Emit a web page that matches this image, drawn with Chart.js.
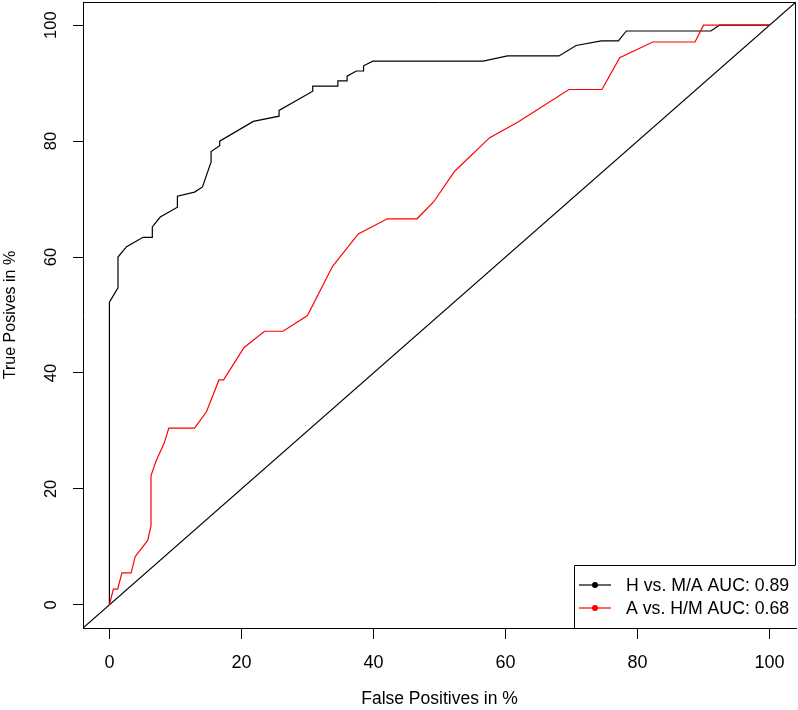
<!DOCTYPE html>
<html>
<head>
<meta charset="utf-8">
<script src="https://cdn.jsdelivr.net/npm/chart.js@4.4.1/dist/chart.umd.min.js"></script>
<style>
  html, body { margin: 0; padding: 0; background: #ffffff; }
  #wrap { width: 798px; height: 710px; }
</style>
</head>
<body>
<div id="wrap"><canvas id="c" width="798" height="710"></canvas></div>
<script>
// ---- data ----
const hmLabel = 'H vs. M/A AUC: 0.89';
const hmFpr = [0, 0, 1.3, 1.3, 2.6, 5.1, 6.5, 6.5, 7.7, 10.3, 10.3, 12.9, 14.1, 15.4, 15.4, 16.7, 16.7, 21.8, 25.7, 25.7, 30.8, 30.8, 34.6, 34.6, 36.0, 36.0, 37.4, 38.5, 38.5, 39.9, 56.6, 60.3, 68.1, 70.7, 74.5, 77.1, 78.3, 91.1, 92.4, 100];
const hmTpr = [0, 52.2, 54.7, 60.0, 61.8, 63.4, 63.4, 65.2, 66.9, 68.6, 70.5, 71.2, 72.1, 76.4, 78.2, 79.2, 80.0, 83.4, 84.3, 85.3, 88.6, 89.5, 89.5, 90.4, 90.4, 91.2, 92.1, 92.1, 93.0, 93.8, 93.8, 94.7, 94.7, 96.5, 97.3, 97.3, 99.0, 99.0, 100, 100];

const ahLabel = 'A vs. H/M AUC: 0.68';
const ahFpr = [0, 0.6, 1.25, 1.9, 3.3, 3.9, 5.8, 6.3, 6.3, 7.1, 8.3, 9.0, 12.9, 14.7, 16.6, 17.3, 20.4, 23.5, 26.3, 30.0, 33.8, 37.7, 42.1, 46.6, 49.1, 52.3, 57.6, 61.9, 69.6, 74.6, 77.3, 82.3, 88.7, 90.0, 100];
const ahTpr = [0, 2.7, 2.7, 5.5, 5.5, 8.3, 11.1, 13.6, 22.3, 24.9, 27.9, 30.5, 30.5, 33.3, 38.8, 38.8, 44.4, 47.2, 47.2, 49.9, 58.4, 64.0, 66.6, 66.6, 69.5, 74.8, 80.6, 83.3, 88.9, 88.9, 94.4, 97.1, 97.1, 100, 100];

const refLine = [-4, 104];
const xTicks = [0, 20, 40, 60, 80, 100];
const yTicks = [0, 20, 40, 60, 80, 100];
const xTitle = 'False Positives in %';
const yTitle = 'True Posives in %';

const toPts = (xs, ys) => xs.map((x, i) => ({ x: x, y: ys[i] }));
const FONT = '"Liberation Sans", Arial, Helvetica, sans-serif';

const bgPlugin = {
  id: 'bg',
  beforeDraw(chart) {
    const ctx = chart.ctx;
    ctx.save();
    ctx.fillStyle = '#ffffff';
    ctx.fillRect(0, 0, chart.width, chart.height);
    ctx.restore();
  }
};

const framePlugin = {
  id: 'frame',
  afterDraw(chart) {
    const ctx = chart.ctx;
    const a = chart.chartArea;
    ctx.save();
    // top and right sides of the box (left/bottom come from the axis borders)
    ctx.strokeStyle = '#000000';
    ctx.lineWidth = 1;
    const t = Math.round(a.top) + 0.5, r = Math.round(a.right) - 0.5;
    ctx.beginPath();
    ctx.moveTo(a.left, t);
    ctx.lineTo(r, t);
    ctx.lineTo(r, a.bottom);
    ctx.stroke();
    // rotated y tick labels
    const ys = chart.scales.y;
    ctx.fillStyle = '#000000';
    ctx.font = '16.5px ' + FONT;
    ctx.textAlign = 'center';
    ctx.textBaseline = 'middle';
    ys.ticks.forEach(tk => {
      const py = ys.getPixelForValue(tk.value);
      ctx.save();
      ctx.translate(51, py);
      ctx.rotate(-Math.PI / 2);
      ctx.fillText(String(tk.value), 0, 0);
      ctx.restore();
    });
    // legend (bottom right, inside plot)
    const w = 222, h = 63;
    const L = Math.round(a.right) - w, T = Math.round(a.bottom) - h;
    ctx.fillStyle = '#ffffff';
    ctx.fillRect(L, T, w, h);
    ctx.strokeStyle = '#000000';
    ctx.beginPath();
    ctx.moveTo(L + 0.5, Math.round(a.bottom));
    ctx.lineTo(L + 0.5, T + 0.5);
    ctx.lineTo(r, T + 0.5);
    ctx.stroke();
    const items = [chart.data.datasets[0], chart.data.datasets[1]];
    ctx.font = '17.7px ' + FONT;
    ctx.textAlign = 'left';
    items.forEach((ds, i) => {
      const cy = T + 20 + i * 23;
      ctx.strokeStyle = ds.borderColor;
      ctx.lineWidth = 1.2;
      ctx.beginPath();
      ctx.moveTo(L + 5, cy);
      ctx.lineTo(L + 37, cy);
      ctx.stroke();
      ctx.fillStyle = ds.borderColor;
      ctx.beginPath();
      ctx.arc(L + 21, cy, 3, 0, Math.PI * 2);
      ctx.fill();
      ctx.fillStyle = '#000000';
      ctx.fillText(ds.label, L + 52, cy + 1);
    });
    ctx.restore();
  }
};

new Chart(document.getElementById('c'), {
  type: 'scatter',
  data: {
    datasets: [
      { label: hmLabel, data: toPts(hmFpr, hmTpr), showLine: true, borderColor: '#000000',
        borderWidth: 1.2, pointRadius: 0, tension: 0, order: 2 },
      { label: ahLabel, data: toPts(ahFpr, ahTpr), showLine: true, borderColor: '#ff0000',
        borderWidth: 1.2, pointRadius: 0, tension: 0, order: 1 },
      { label: 'diag', data: toPts(refLine, refLine), showLine: true, borderColor: '#000000',
        borderWidth: 1.2, pointRadius: 0, tension: 0, order: 3 }
    ]
  },
  options: {
    responsive: false,
    animation: false,
    devicePixelRatio: 1,
    layout: { padding: { left: 0, right: 2, top: 2, bottom: 0 } },
    plugins: { legend: { display: false }, tooltip: { enabled: false } },
    scales: {
      x: {
        type: 'linear', min: -4, max: 104,
        afterBuildTicks: s => { s.ticks = xTicks.map(v => ({ value: v })); },
        grid: { display: true, drawOnChartArea: false, drawTicks: true, tickLength: 11, color: '#000000', lineWidth: 1 },
        border: { display: true, color: '#000000', width: 1 },
        ticks: { color: '#000000', font: { family: FONT, size: 18 }, padding: 13, maxRotation: 0, autoSkip: false },
        title: { display: true, text: xTitle, color: '#000000', font: { family: FONT, size: 17.5 }, padding: { top: 2.4, bottom: 0 } }
      },
      y: {
        type: 'linear', min: -4, max: 104,
        afterBuildTicks: s => { s.ticks = yTicks.map(v => ({ value: v })); },
        grid: { display: true, drawOnChartArea: false, drawTicks: true, tickLength: 10, color: '#000000', lineWidth: 1 },
        border: { display: true, color: '#000000', width: 1 },
        ticks: { display: false },
        title: { display: true, text: yTitle, color: '#000000', font: { family: FONT, size: 16 }, padding: { top: 1.4, bottom: 52.4 } }
      }
    }
  },
  plugins: [bgPlugin, framePlugin]
});
</script>
</body>
</html>
